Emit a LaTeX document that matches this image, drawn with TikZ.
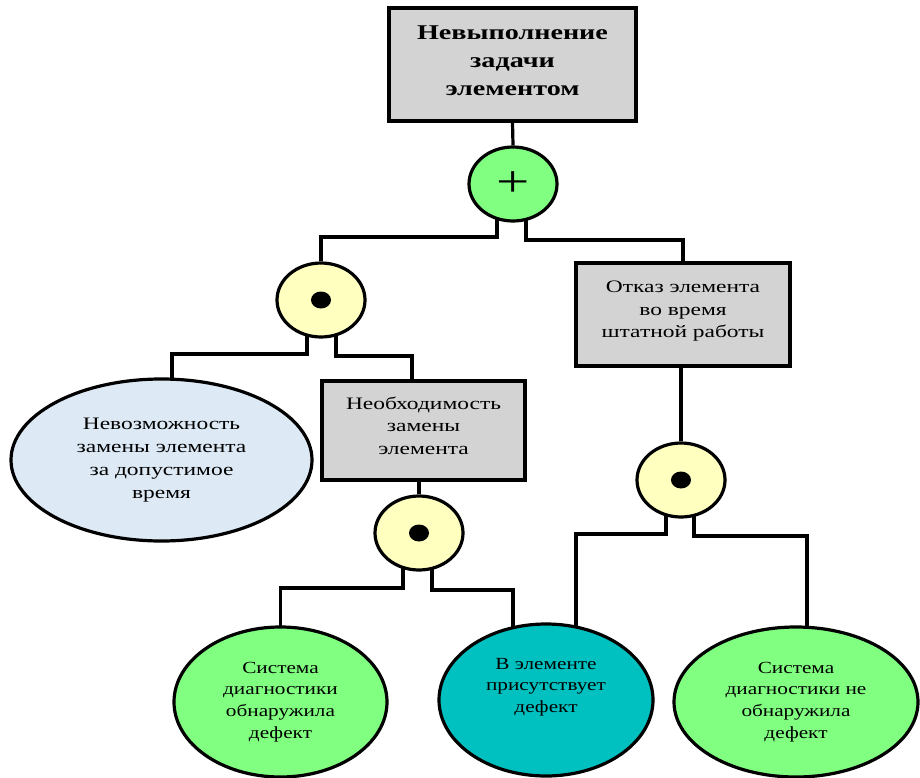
\documentclass[tikz,border=0pt]{standalone}
\usepackage{fontspec}
\setmainfont{Liberation Serif}[FakeStretch=1.34]
\newfontfamily\leaffont{Liberation Serif}[FakeStretch=1.25]
\usetikzlibrary{shapes.geometric,backgrounds}
\definecolor{boxgray}{RGB}{211,211,211}
\definecolor{gategreen}{RGB}{128,255,128}
\definecolor{gateyellow}{RGB}{255,255,192}
\definecolor{eventblue}{RGB}{221,233,245}
\definecolor{eventteal}{RGB}{0,192,192}
\begin{document}
\begin{tikzpicture}[x=1pt,y=-1pt,line width=3.2pt,line join=miter,
  wire/.style={draw,line width=3.2pt,line join=miter},
  eventbox/.style={draw,fill=boxgray,rectangle,inner sep=0pt,align=center,font=\fontsize{17.5}{22.5}\selectfont},
  topbox/.style={draw,fill=boxgray,rectangle,inner sep=0pt,align=center,text depth=8pt,font=\bfseries\fontsize{21}{28}\selectfont},
  orgate/.style={draw,fill=gategreen,ellipse,inner sep=0pt,minimum width=88,minimum height=74,font=\fontsize{44}{44}\selectfont},
  andgate/.style={draw,fill=gateyellow,ellipse,inner sep=0pt,minimum width=88,minimum height=74,
    path picture={\fill[black] (path picture bounding box.center) ellipse [x radius=10pt,y radius=8.5pt];}},
  leafell/.style={draw,ellipse,inner sep=0pt,align=center,font=\leaffont\fontsize{17}{21.7}\selectfont},
  leaftxt/.style={inner sep=0pt,align=center,font=\leaffont\fontsize{17}{21.7}\selectfont}
]
\useasboundingbox (0,0) rectangle (920,778);
\node[topbox,minimum width=247,minimum height=113] (top) at (512.5,64.5) {Невыполнение\\задачи\\элементом};
\node[orgate] (plus) at (513,184) {+};
\node[andgate] (and1) at (321,300) {};
\node[eventbox,minimum width=214,minimum height=103,text depth=10pt] (fail) at (683,314.5) {Отказ элемента\\во время\\штатной работы};
\node[leafell,fill=eventblue,minimum width=301,minimum height=162,font=\fontsize{17.5}{23}\selectfont] (imposs) at (161.5,460) {Невозможность\\замены элемента\\за допустимое\\время};
\node[eventbox,minimum width=203,minimum height=99,text depth=10pt] (need) at (423.5,430.5) {Необходимость\\замены\\элемента};
\node[andgate] (and2) at (419,533) {};
\node[andgate] (and3) at (681,480) {};
\node[leafell,fill=gategreen,minimum width=213,minimum height=150] (found) at (280.5,702) {Система\\диагностики\\обнаружила\\дефект};
\node[leafell,fill=eventteal,minimum width=214,minimum height=152] (defect) at (546,700) {};
\node[leaftxt] (defecttxt) at (546,687) {В элементе\\присутствует\\дефект};
\node[leafell,fill=gategreen,minimum width=244,minimum height=150] (notfound) at (796,702) {Система\\диагностики не\\обнаружила\\дефект};
\begin{scope}[on background layer]
\draw[wire] (top.south) -- (plus.north);
\draw[wire] ([xshift=-16pt]plus.center) -- ++(0,53) -| (and1.north);
\draw[wire] ([xshift=13pt]plus.center) -- ++(0,56) -| (fail.north);
\draw[wire] ([xshift=-14pt]and1.center) -- ++(0,54) -| ([xshift=10.5pt]imposs.center);
\draw[wire] ([xshift=15pt]and1.center) -- ++(0,56) -| ([xshift=-11.5pt]need.north);
\draw[wire] (need.south -| and2.north) -- (and2.north);
\draw[wire] (fail.south -| and3.north) -- (and3.north);
\draw[wire] ([xshift=-16pt]and2.center) -- ++(0,55) -| (found.center);
\draw[wire] ([xshift=13pt]and2.center) -- ++(0,57) -| ([xshift=-33pt]defect.center);
\draw[wire] ([xshift=-15pt]and3.center) -- ++(0,54) -| ([xshift=30pt]defect.center);
\draw[wire] ([xshift=13pt]and3.center) -- ++(0,56) -| ([xshift=11pt]notfound.center);
\end{scope}
\end{tikzpicture}
\end{document}
